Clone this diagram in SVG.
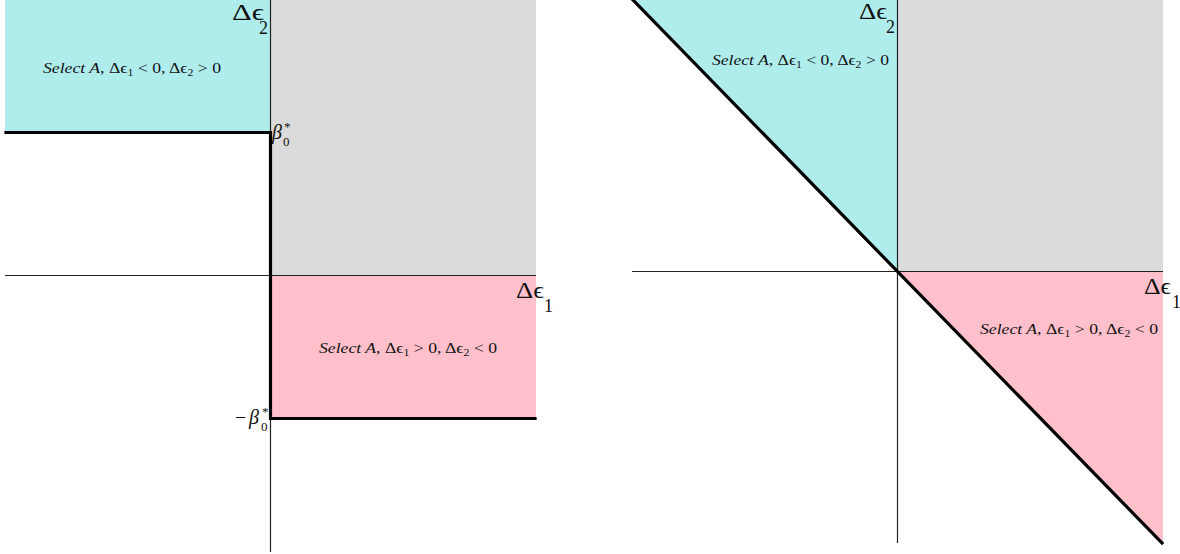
<svg xmlns="http://www.w3.org/2000/svg" width="1180" height="554" viewBox="0 0 1180 554">
<style>
.cyan{fill:#afeded}
.gray{fill:#dbdbdb}
.pink{fill:#ffc0cb}
.axis{stroke:#222;stroke-width:1.2;fill:none}
.thick{stroke:#000;stroke-width:3.2;fill:none;stroke-linecap:square}
.lbl{font-family:"Liberation Serif","DejaVu Serif",serif;font-size:15px;fill:#111}
.it{font-style:italic}
.ax{font-family:"Liberation Serif","DejaVu Serif",serif;font-size:23px;fill:#111}
.axs{font-family:"Liberation Serif","DejaVu Serif",serif;font-size:18px;fill:#111}
.sub{font-size:10px}
.b{font-family:"Liberation Serif","DejaVu Serif",serif;font-size:20px;font-style:italic;fill:#111}
.m{font-family:"Liberation Serif","DejaVu Serif",serif;font-size:20px;fill:#111}
.bs{font-family:"Liberation Serif","DejaVu Serif",serif;font-size:13px;fill:#111}
</style>
<rect width="1180" height="554" fill="#fff"/>
<g id="left-panel">
  <rect class="cyan" x="5" y="0" width="265.5" height="132"/>
  <rect class="gray" x="270.5" y="0" width="265.5" height="275"/>
  <rect class="pink" x="270.5" y="275.5" width="265.5" height="143"/>
  <line class="axis" x1="5" y1="275.5" x2="536" y2="275.5"/>
  <line class="axis" x1="270.5" y1="0" x2="270.5" y2="552"/>
  <polyline class="thick" points="6,132.5 270.5,132.5 270.5,418.5 535,418.5"/>
  <text class="lbl" x="43" y="73" textLength="178" lengthAdjust="spacingAndGlyphs"><tspan class="it">Select A</tspan>, Δϵ<tspan class="sub" dy="3">1</tspan><tspan dy="-3"> &lt; 0, Δϵ</tspan><tspan class="sub" dy="3">2</tspan><tspan dy="-3"> &gt; 0</tspan></text>
  <text class="lbl" x="319" y="353" textLength="178" lengthAdjust="spacingAndGlyphs"><tspan class="it">Select A</tspan>, Δϵ<tspan class="sub" dy="3">1</tspan><tspan dy="-3"> &gt; 0, Δϵ</tspan><tspan class="sub" dy="3">2</tspan><tspan dy="-3"> &lt; 0</tspan></text>
  <text class="ax" x="232" y="20" textLength="32" lengthAdjust="spacingAndGlyphs">Δϵ</text>
  <text class="axs" x="259" y="34">2</text>
  <text class="ax" x="516" y="298" textLength="28" lengthAdjust="spacingAndGlyphs">Δϵ</text>
  <text class="axs" x="544" y="312">1</text>
  <text class="b" x="272" y="139">β</text>
  <text class="bs" x="283" y="146">0</text>
  <text class="bs" x="284" y="131">*</text>
  <text class="m" x="235" y="424">−</text>
  <text class="b" x="249" y="424">β</text>
  <text class="bs" x="261" y="431">0</text>
  <text class="bs" x="262" y="416">*</text>
</g>
<g id="right-panel">
  <polygon class="cyan" points="632,0 897.5,0 897.5,271.5"/>
  <rect class="gray" x="897.5" y="0" width="265.5" height="271"/>
  <polygon class="pink" points="897.5,271.5 1163,271.5 1163,543"/>
  <line class="axis" x1="632" y1="271.5" x2="1163" y2="271.5"/>
  <line class="axis" x1="897.5" y1="0" x2="897.5" y2="543"/>
  <line class="thick" x1="633" y1="0" x2="1162" y2="543"/>
  <text class="lbl" x="712" y="65" textLength="177" lengthAdjust="spacingAndGlyphs"><tspan class="it">Select A</tspan>, Δϵ<tspan class="sub" dy="3">1</tspan><tspan dy="-3"> &lt; 0, Δϵ</tspan><tspan class="sub" dy="3">2</tspan><tspan dy="-3"> &gt; 0</tspan></text>
  <text class="lbl" x="980" y="334" textLength="178" lengthAdjust="spacingAndGlyphs"><tspan class="it">Select A</tspan>, Δϵ<tspan class="sub" dy="3">1</tspan><tspan dy="-3"> &gt; 0, Δϵ</tspan><tspan class="sub" dy="3">2</tspan><tspan dy="-3"> &lt; 0</tspan></text>
  <text class="ax" x="859" y="19" textLength="28" lengthAdjust="spacingAndGlyphs">Δϵ</text>
  <text class="axs" x="886" y="33">2</text>
  <text class="ax" x="1144" y="294" textLength="27" lengthAdjust="spacingAndGlyphs">Δϵ</text>
  <text class="axs" x="1172" y="308">1</text>
</g>
</svg>
